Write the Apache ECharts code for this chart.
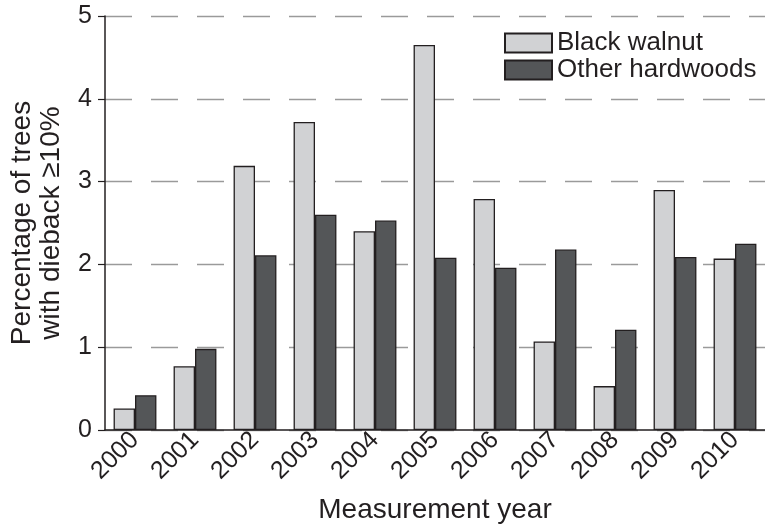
<!DOCTYPE html>
<html>
<head>
<meta charset="utf-8">
<script src="https://cdn.jsdelivr.net/npm/echarts@6/dist/echarts.min.js"></script>
<style>html,body{margin:0;padding:0;background:#fff}#c{width:765px;height:529px}</style>
</head>
<body>
<div id="c"></div>
<script>
const years = ['2000','2001','2002','2003','2004','2005','2006','2007','2008','2009','2010'];
const blackWalnut = [0.26, 0.77, 3.19, 3.72, 2.40, 4.65, 2.79, 1.07, 0.53, 2.90, 2.07];
const otherHardwoods = [0.42, 0.98, 2.11, 2.60, 2.53, 2.08, 1.96, 2.18, 1.21, 2.09, 2.25];
const yTicks = [0, 1, 2, 3, 4, 5];

const FONT = '"Liberation Sans", Arial, Helvetica, sans-serif';
const INK = '#231f20';
const chart = echarts.init(document.getElementById('c'), null, {renderer: 'canvas'});
chart.setOption({
  animation: false,
  backgroundColor: '#fff',
  textStyle: {fontFamily: FONT, color: INK},
  grid: {left: 104, top: 16, width: 668, bottom: 98, containLabel: false},
  legend: {
    orient: 'vertical', left: 504, top: 30, padding: 0, itemWidth: 47, itemHeight: 19, itemGap: 1,
    icon: 'rect',
    textStyle: {fontFamily: FONT, fontSize: 26, color: INK},
    data: ['Black walnut', 'Other hardwoods']
  },
  xAxis: {
    type: 'category', data: years,
    axisLine: {lineStyle: {color: INK, width: 1.5}},
    axisTick: {show: false},
    axisLabel: {rotate: 45, fontSize: 25, color: INK, fontFamily: FONT, margin: 6, interval: 0},
    name: 'Measurement year', nameLocation: 'middle', nameGap: 66,
    nameTextStyle: {fontSize: 28, color: INK, fontFamily: FONT}
  },
  yAxis: {
    type: 'value', min: yTicks[0], max: yTicks[yTicks.length-1], interval: 1,
    axisLine: {show: true, lineStyle: {color: INK, width: 1.5}},
    axisTick: {show: true, inside: false, length: 7, lineStyle: {color: INK, width: 1.2}},
    axisLabel: {fontSize: 25, color: INK, fontFamily: FONT, margin: 13},
    splitLine: {show: true, lineStyle: {color: '#9a9a9a', width: 1.3, type: [27, 19]}},
    name: 'Percentage of trees\nwith dieback \u226510%', nameLocation: 'middle', nameGap: 39,
    nameTextStyle: {fontSize: 28, color: INK, fontFamily: FONT, lineHeight: 29}
  },
  series: [
    {name: 'Black walnut', type: 'bar', data: blackWalnut, barGap: '0%', barCategoryGap: '28.6%',
     itemStyle: {color: '#d1d2d4', borderColor: INK, borderWidth: 1.3}},
    {name: 'Other hardwoods', type: 'bar', data: otherHardwoods,
     itemStyle: {color: '#545658', borderColor: INK, borderWidth: 1.3}}
  ]
});
</script>
</body>
</html>
